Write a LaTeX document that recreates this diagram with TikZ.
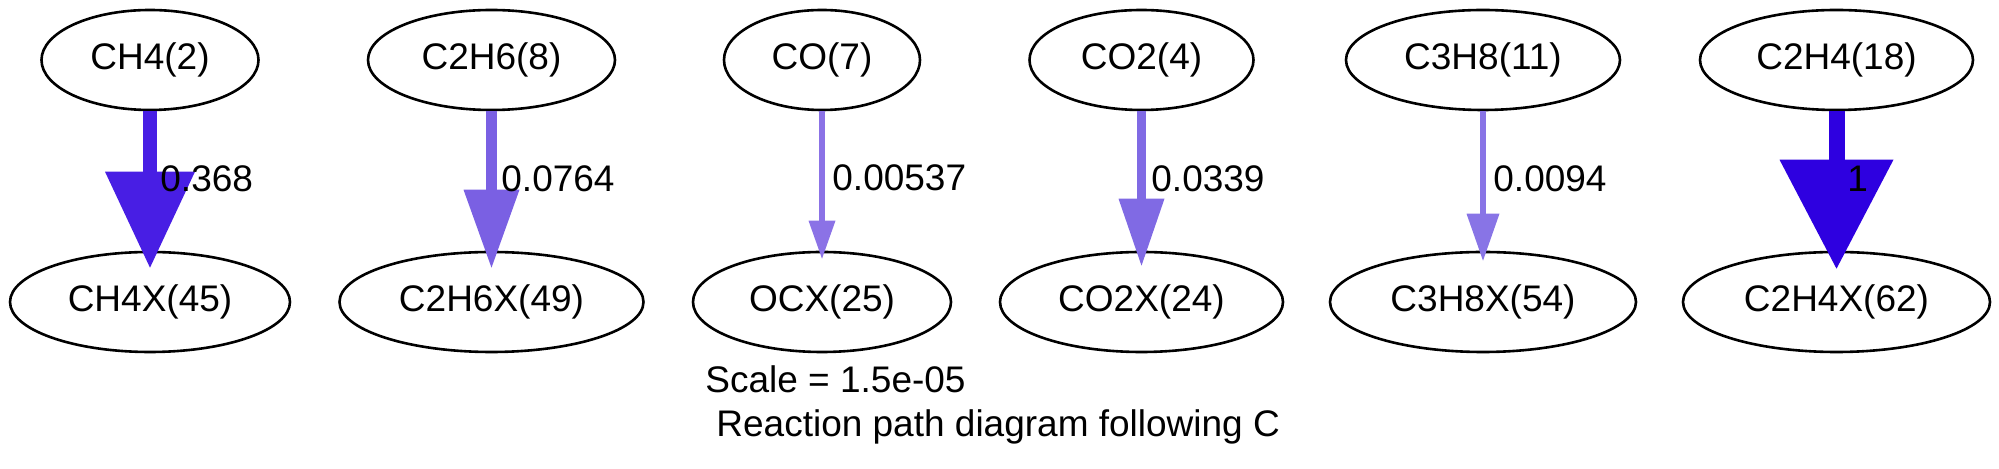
\documentclass[tikz,border=0pt]{standalone}
\usepackage{fontspec}
\setmainfont{Liberation Sans}
\usepackage{tikz}
\usetikzlibrary{shapes.geometric}
\usetikzlibrary{arrows.meta}

\definecolor{fluxA}{HTML}{481EE4}
\definecolor{fluxB}{HTML}{7A60E3}
\definecolor{fluxC}{HTML}{8B72E6}
\definecolor{fluxD}{HTML}{806AE4}
\definecolor{fluxE}{HTML}{8874E6}
\definecolor{fluxF}{HTML}{2E00E0}

\tikzset{
  species/.style={draw=black,line width=1.3pt,ellipse,inner sep=0pt,minimum height=50pt},
  fluxlabel/.style={anchor=base west,inner sep=0pt},
}

\begin{document}
\begin{tikzpicture}[line cap=butt,line join=miter,x=0.5pt,y=-0.5pt,font=\fontsize{18.5}{22}\selectfont]
\useasboundingbox (0,0) rectangle (1999,469);
% gas phase species
\node[species,minimum width=108.5pt] (ch4) at (150,60) {CH4(2)};
\node[species,minimum width=123.5pt] (c2h6) at (491.5,60) {C2H6(8)};
\node[species,minimum width=98pt] (co) at (822,60) {CO(7)};
\node[species,minimum width=112pt] (co2) at (1141.5,60) {CO2(4)};
\node[species,minimum width=137pt] (c3h8) at (1483,60) {C3H8(11)};
\node[species,minimum width=136.5pt] (c2h4) at (1836.5,60) {C2H4(18)};
% adsorbed species
\node[species,minimum width=140pt] (ch4x) at (150,302) {CH4X(45)};
\node[species,minimum width=152pt] (c2h6x) at (491.5,302) {C2H6X(49)};
\node[species,minimum width=129pt] (ocx) at (822,302) {OCX(25)};
\node[species,minimum width=141.5pt] (co2x) at (1141.5,302) {CO2X(24)};
\node[species,minimum width=153pt] (c3h8x) at (1483,302) {C3H8X(54)};
\node[species,minimum width=153.5pt] (c2h4x) at (1836.5,302) {C2H4X(62)};
% fluxes
\draw[fluxA,line width=7pt,shorten >=-8.5pt,-{Triangle[width=45pt,length=48pt,line width=0pt]}] (ch4) -- (ch4x);
\draw[fluxB,line width=5.5pt,shorten >=-8.5pt,-{Triangle[width=28pt,length=39pt,line width=0pt]}] (c2h6) -- (c2h6x);
\draw[fluxC,line width=3pt,shorten >=-4pt,-{Triangle[width=13.5pt,length=19pt,line width=0pt]}] (co) -- (ocx);
\draw[fluxD,line width=4.5pt,shorten >=-7.5pt,-{Triangle[width=23pt,length=33.5pt,line width=0pt]}] (co2) -- (co2x);
\draw[fluxE,line width=3pt,shorten >=-5pt,-{Triangle[width=16.5pt,length=23.5pt,line width=0pt]}] (c3h8) -- (c3h8x);
\draw[fluxF,line width=8pt,shorten >=-9pt,-{Triangle[width=57pt,length=54.5pt,line width=0pt]}] (c2h4) -- (c2h4x);
% flux values
\node[fluxlabel] (lab1) at (160,192) {0.368};
\node[fluxlabel] (lab2) at (501,192) {0.0764};
\node[fluxlabel] (lab3) at (832,191) {0.00537};
\node[fluxlabel] (lab4) at (1151,192) {0.0339};
\node[fluxlabel] (lab5) at (1493,192) {0.0094};
\node[fluxlabel] (lab6) at (1847,192) {1};
% caption
\node[fluxlabel] (scale) at (705,393) {Scale = 1.5e-05};
\node[fluxlabel] (title) at (716,437) {Reaction path diagram following C};
\end{tikzpicture}
\end{document}
